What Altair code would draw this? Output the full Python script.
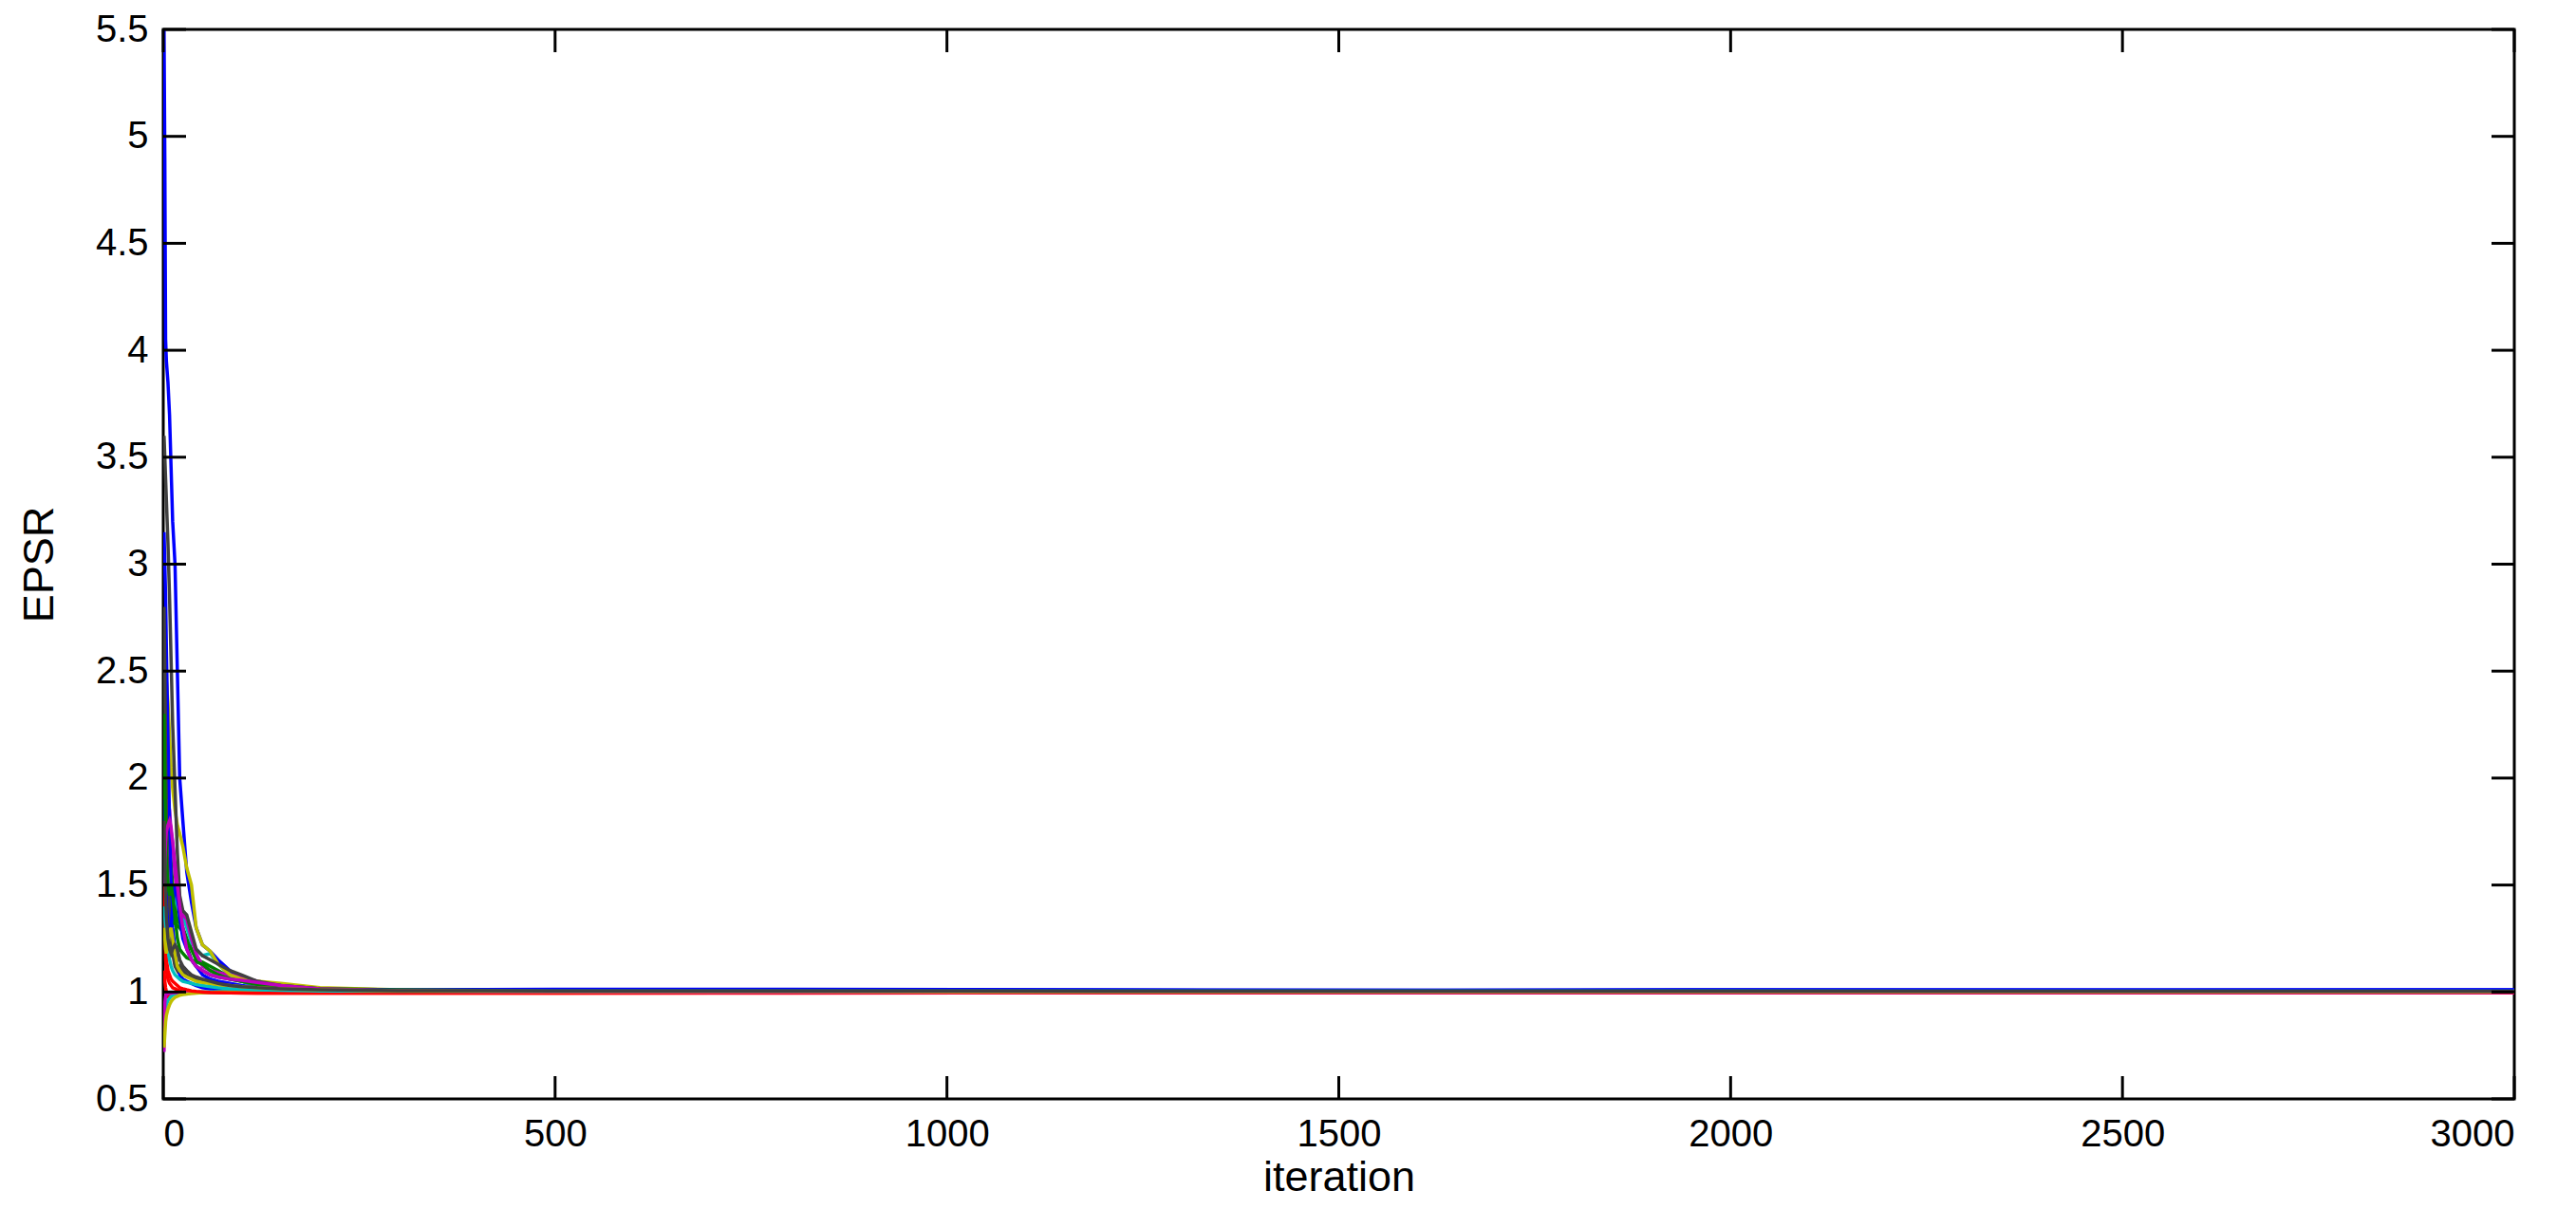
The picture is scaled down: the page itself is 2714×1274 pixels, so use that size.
import altair as alt
import pandas as pd

ITER = [1, 2, 3, 4, 6, 8, 10, 12, 15, 18, 21, 25, 30, 36, 42, 50, 60, 70, 85, 100,
        120, 150, 200, 300, 500, 800, 1200, 1600, 2000, 2500, 3000]

s01 = [5.50, 4.90, 4.05, 3.95, 3.85, 3.70, 3.45, 3.20, 3.00, 2.50, 2.00, 1.80, 1.56, 1.42, 1.30, 1.22, 1.19, 1.15, 1.10, 1.06, 1.04, 1.025, 1.015, 1.010, 1.012, 1.012, 1.010, 1.008, 1.010, 1.010, 1.010]
s02 = [2.60, 2.55, 2.20, 1.95, 1.80, 1.70, 1.60, 1.50, 1.40, 1.33, 1.32, 1.30, 1.25, 1.20, 1.15, 1.14, 1.12, 1.10, 1.07, 1.05, 1.03, 1.02, 1.010, 1.005, 1.005, 1.008, 1.004, 1.003, 1.004, 1.003, 1.003]
s03 = [2.05, 1.35, 1.15, 1.10, 1.06, 1.04, 1.03, 1.02, 1.015, 1.010, 1.005, 1.000, 1.000, 0.998, 0.997, 0.997, 0.996, 0.996, 0.996, 0.995, 0.995, 0.995, 0.995, 0.995, 0.995, 0.996, 0.996, 0.997, 0.997, 0.997, 0.997]
s04 = [1.55, 1.45, 1.35, 1.30, 1.28, 1.30, 1.32, 1.35, 1.42, 1.45, 1.40, 1.35, 1.30, 1.23, 1.20, 1.17, 1.18, 1.13, 1.08, 1.05, 1.03, 1.02, 1.010, 1.005, 1.004, 1.004, 1.003, 1.003, 1.004, 1.003, 1.002]
s05 = [1.70, 1.75, 1.80, 1.85, 1.90, 1.85, 1.75, 1.70, 1.55, 1.45, 1.38, 1.36, 1.34, 1.25, 1.18, 1.12, 1.10, 1.09, 1.08, 1.07, 1.05, 1.03, 1.015, 1.005, 1.000, 0.999, 0.998, 0.998, 0.998, 0.998, 0.998]
s06 = [2.60, 2.55, 2.50, 2.45, 2.35, 2.20, 2.05, 1.95, 1.85, 1.78, 1.74, 1.68, 1.58, 1.50, 1.30, 1.22, 1.19, 1.13, 1.08, 1.06, 1.05, 1.04, 1.020, 1.010, 1.003, 1.002, 1.002, 1.001, 1.002, 1.002, 1.001]
s07 = [3.60, 3.50, 3.40, 3.30, 3.10, 2.85, 2.55, 2.25, 1.95, 1.65, 1.45, 1.38, 1.36, 1.28, 1.20, 1.17, 1.15, 1.13, 1.10, 1.08, 1.05, 1.03, 1.015, 1.008, 1.006, 1.005, 1.005, 1.004, 1.004, 1.004, 1.004]
s08 = [3.15, 3.00, 2.85, 2.60, 2.20, 1.80, 1.50, 1.30, 1.20, 1.12, 1.08, 1.06, 1.05, 1.04, 1.03, 1.02, 1.015, 1.012, 1.010, 1.010, 1.008, 1.008, 1.006, 1.006, 1.008, 1.010, 1.008, 1.006, 1.008, 1.007, 1.008]
s09 = [2.00, 1.90, 1.70, 1.55, 1.45, 1.40, 1.35, 1.33, 1.32, 1.31, 1.30, 1.28, 1.22, 1.15, 1.12, 1.10, 1.08, 1.07, 1.06, 1.05, 1.04, 1.03, 1.015, 1.010, 1.006, 1.005, 1.004, 1.004, 1.003, 1.003, 1.003]
s10 = [1.10, 1.05, 1.02, 1.00, 0.98, 0.985, 0.99, 0.99, 0.992, 0.993, 0.994, 0.995, 0.995, 0.995, 0.996, 0.996, 0.996, 0.996, 0.996, 0.996, 0.996, 0.996, 0.996, 0.996, 0.996, 0.996, 0.997, 0.997, 0.997, 0.997, 0.997]
s11 = [0.88, 0.90, 0.92, 0.94, 0.96, 0.97, 0.98, 0.985, 0.99, 0.99, 0.993, 0.995, 0.997, 0.998, 0.999, 1.000, 1.000, 1.001, 1.001, 1.002, 1.002, 1.002, 1.003, 1.003, 1.003, 1.003, 1.003, 1.004, 1.003, 1.004, 1.003]
s12 = [0.72, 0.95, 0.98, 0.99, 0.992, 0.994, 0.995, 0.996, 0.997, 0.997, 0.998, 0.998, 0.998, 0.998, 0.998, 0.998, 0.998, 0.998, 0.998, 0.998, 0.998, 0.998, 0.998, 0.998, 0.998, 0.998, 0.998, 0.998, 0.998, 0.998, 0.998]
s13 = [0.74, 0.80, 0.86, 0.89, 0.92, 0.94, 0.955, 0.965, 0.975, 0.98, 0.985, 0.988, 0.99, 0.993, 0.995, 0.997, 0.998, 0.999, 1.000, 1.000, 1.001, 1.001, 1.001, 1.001, 1.001, 1.001, 1.001, 1.001, 1.001, 1.001, 1.001]
s14 = [2.80, 2.50, 2.10, 1.80, 1.50, 1.35, 1.25, 1.18, 1.12, 1.10, 1.12, 1.10, 1.08, 1.07, 1.06, 1.05, 1.04, 1.035, 1.03, 1.025, 1.02, 1.015, 1.010, 1.006, 1.005, 1.005, 1.004, 1.004, 1.004, 1.004, 1.004]
s15 = [1.90, 1.80, 1.60, 1.40, 1.30, 1.25, 1.30, 1.40, 1.50, 1.45, 1.35, 1.25, 1.20, 1.15, 1.12, 1.08, 1.06, 1.05, 1.04, 1.03, 1.02, 1.015, 1.010, 1.008, 1.010, 1.009, 1.008, 1.008, 1.009, 1.008, 1.009]
s16 = [2.30, 2.00, 1.75, 1.60, 1.50, 1.45, 1.50, 1.45, 1.35, 1.25, 1.20, 1.18, 1.16, 1.15, 1.14, 1.13, 1.10, 1.08, 1.06, 1.05, 1.035, 1.025, 1.012, 1.006, 1.004, 1.004, 1.003, 1.003, 1.003, 1.002, 1.002]
s17 = [1.60, 1.40, 1.25, 1.15, 1.10, 1.08, 1.06, 1.05, 1.04, 1.03, 1.02, 1.015, 1.01, 1.005, 1.002, 1.000, 0.998, 0.997, 0.996, 0.996, 0.995, 0.995, 0.995, 0.995, 0.995, 0.995, 0.996, 0.996, 0.996, 0.996, 0.996]
s18 = [1.40, 1.35, 1.30, 1.25, 1.20, 1.15, 1.12, 1.10, 1.08, 1.07, 1.06, 1.05, 1.045, 1.04, 1.035, 1.03, 1.025, 1.02, 1.015, 1.012, 1.01, 1.008, 1.005, 1.004, 1.004, 1.003, 1.003, 1.003, 1.003, 1.003, 1.003]
s19 = [1.50, 1.60, 1.70, 1.75, 1.78, 1.80, 1.77, 1.70, 1.60, 1.50, 1.40, 1.30, 1.20, 1.15, 1.12, 1.10, 1.08, 1.07, 1.06, 1.055, 1.045, 1.03, 1.015, 1.006, 1.000, 0.999, 0.999, 0.998, 0.998, 0.998, 0.998]
s20 = [1.30, 1.25, 1.20, 1.18, 1.22, 1.28, 1.30, 1.25, 1.18, 1.12, 1.10, 1.08, 1.07, 1.06, 1.05, 1.045, 1.04, 1.035, 1.03, 1.025, 1.02, 1.015, 1.01, 1.005, 1.002, 1.002, 1.001, 1.001, 1.001, 1.001, 1.001]
s21 = [1.80, 1.60, 1.45, 1.35, 1.25, 1.20, 1.18, 1.20, 1.22, 1.20, 1.15, 1.12, 1.10, 1.08, 1.07, 1.06, 1.05, 1.04, 1.03, 1.025, 1.02, 1.015, 1.01, 1.006, 1.005, 1.005, 1.004, 1.004, 1.004, 1.004, 1.004]

SERIES = [s01, s02, s03, s04, s05, s06, s07, s08, s09, s10, s11, s12, s13, s14,
          s15, s16, s17, s18, s19, s20, s21]
NAMES = [f"s{i + 1:02d}" for i in range(len(SERIES))]
CYCLE = ["#0000ff", "#008000", "#ff0000", "#00bfbf", "#bf00bf", "#bfbf00", "#404040"]
COLORS = [CYCLE[i % len(CYCLE)] for i in range(len(SERIES))]

X_TICKS = [0, 500, 1000, 1500, 2000, 2500, 3000]
Y_TICKS = [0.5, 1, 1.5, 2, 2.5, 3, 3.5, 4, 4.5, 5, 5.5]

rows = []
for name, vals in zip(NAMES, SERIES):
    for it, v in zip(ITER, vals):
        rows.append({"series": name, "iteration": it, "EPSR": v})
df = pd.DataFrame(rows)

W, H = 2477, 1127
TL = 24
FONT = "Liberation Sans"

xscale = alt.Scale(domain=[0, 3000], nice=False, zero=False)
yscale = alt.Scale(domain=[0.5, 5.5], nice=False, zero=False)

lines = alt.Chart(df).mark_line(strokeWidth=3.5, clip=True).encode(
    x=alt.X("iteration:Q", scale=xscale,
            axis=alt.Axis(values=X_TICKS, title="iteration", ticks=False, domain=False,
                          grid=False, labelFontSize=40, labelPadding=17,
                          titleFontSize=45, titlePadding=3, titleFontWeight="normal",
                          labelExpr="'' + datum.value")),
    y=alt.Y("EPSR:Q", scale=yscale,
            axis=alt.Axis(values=Y_TICKS, title="EPSR", ticks=False, domain=False,
                          grid=False, labelFontSize=40, labelPadding=16,
                          titleFontSize=45, titlePadding=36, titleFontWeight="normal",
                          labelExpr="'' + datum.value")),
    color=alt.Color("series:N", scale=alt.Scale(domain=NAMES, range=COLORS), legend=None),
    order=alt.Order("iteration:Q"),
)

ydf = pd.DataFrame({"v": Y_TICKS})
xdf = pd.DataFrame({"v": X_TICKS})

ytick_l = alt.Chart(ydf).mark_rule(color="black", strokeWidth=3).encode(
    y=alt.Y("v:Q", scale=yscale), x=alt.value(0), x2=alt.value(TL))
ytick_r = alt.Chart(ydf).mark_rule(color="black", strokeWidth=3).encode(
    y=alt.Y("v:Q", scale=yscale), x=alt.value(W - TL), x2=alt.value(W))
xtick_b = alt.Chart(xdf).mark_rule(color="black", strokeWidth=3).encode(
    x=alt.X("v:Q", scale=xscale), y=alt.value(H - TL), y2=alt.value(H))
xtick_t = alt.Chart(xdf).mark_rule(color="black", strokeWidth=3).encode(
    x=alt.X("v:Q", scale=xscale), y=alt.value(0), y2=alt.value(TL))

chart = alt.layer(lines, ytick_l, ytick_r, xtick_b, xtick_t).properties(
    width=W, height=H,
    autosize=alt.AutoSizeParams(type="none"),
    padding={"left": 164, "top": 23, "right": 55, "bottom": 110},
    background="white",
).configure_view(
    stroke="black", strokeWidth=3
).configure_axis(
    labelFont=FONT, titleFont=FONT, labelColor="black", titleColor="black"
)

chart.save("out.html", embed_options={"renderer": "svg", "actions": False})
